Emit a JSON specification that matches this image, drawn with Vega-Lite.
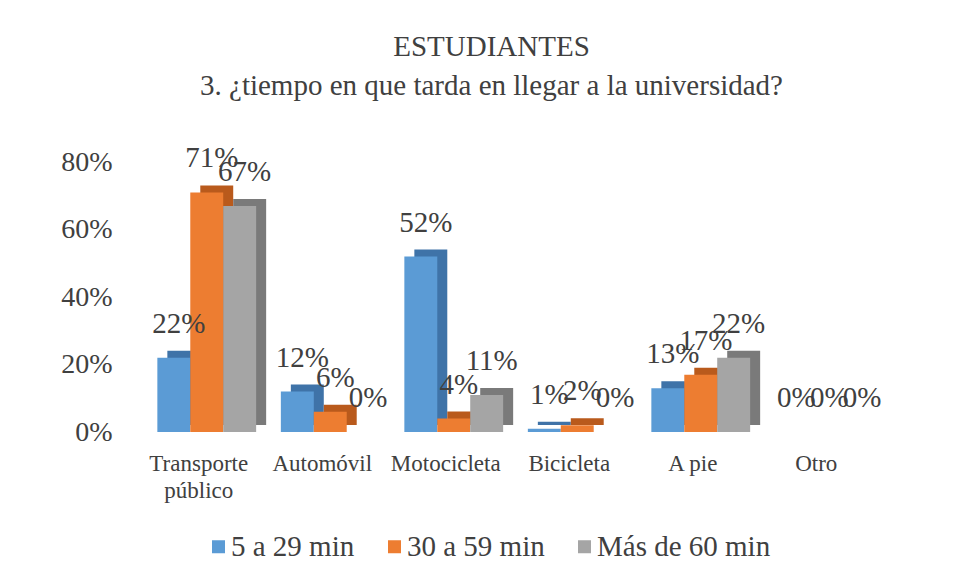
{
  "$schema": "https://vega.github.io/schema/vega-lite/v6.json",
  "autosize": {"type": "none"},
  "width": 741,
  "height": 270,
  "padding": {"left": 145, "top": 162, "right": 70, "bottom": 147},
  "background": "white",
  "title": {
    "text": ["ESTUDIANTES", "3. ¿tiempo en que tarda en llegar a la universidad?"],
    "font": "Liberation Serif, Times New Roman, serif",
    "fontSize": 29,
    "fontWeight": "normal",
    "color": "#404040",
    "lineHeight": 39,
    "anchor": "middle",
    "dx": -24,
    "offset": 43
  },
  "config": {
    "view": {"stroke": null},
    "font": "Liberation Serif, Times New Roman, serif"
  },
  "data": {
    "values": [
      {"categoria": "Transporte público", "tiempo": "5 a 29 min", "valor": 0.22},
      {"categoria": "Transporte público", "tiempo": "30 a 59 min", "valor": 0.71},
      {"categoria": "Transporte público", "tiempo": "Más de 60 min", "valor": 0.67},
      {"categoria": "Automóvil", "tiempo": "5 a 29 min", "valor": 0.12},
      {"categoria": "Automóvil", "tiempo": "30 a 59 min", "valor": 0.06},
      {"categoria": "Automóvil", "tiempo": "Más de 60 min", "valor": 0.0},
      {"categoria": "Motocicleta", "tiempo": "5 a 29 min", "valor": 0.52},
      {"categoria": "Motocicleta", "tiempo": "30 a 59 min", "valor": 0.04},
      {"categoria": "Motocicleta", "tiempo": "Más de 60 min", "valor": 0.11},
      {"categoria": "Bicicleta", "tiempo": "5 a 29 min", "valor": 0.01},
      {"categoria": "Bicicleta", "tiempo": "30 a 59 min", "valor": 0.02},
      {"categoria": "Bicicleta", "tiempo": "Más de 60 min", "valor": 0.0},
      {"categoria": "A pie", "tiempo": "5 a 29 min", "valor": 0.13},
      {"categoria": "A pie", "tiempo": "30 a 59 min", "valor": 0.17},
      {"categoria": "A pie", "tiempo": "Más de 60 min", "valor": 0.22},
      {"categoria": "Otro", "tiempo": "5 a 29 min", "valor": 0.0},
      {"categoria": "Otro", "tiempo": "30 a 59 min", "valor": 0.0},
      {"categoria": "Otro", "tiempo": "Más de 60 min", "valor": 0.0}
    ]
  },
  "encoding": {
    "x": {
      "field": "categoria",
      "type": "nominal",
      "sort": null,
      "scale": {"paddingInner": 0.2, "paddingOuter": 0.1},
      "axis": {
        "title": null,
        "domain": false,
        "ticks": false,
        "labelAngle": 0,
        "labelFont": "Liberation Serif, Times New Roman, serif",
        "labelFontSize": 23,
        "labelColor": "#404040",
        "labelPadding": 20,
        "labelOffset": -8,
        "labelLineHeight": 27,
        "labelExpr": "datum.label == 'Transporte público' ? ['Transporte', 'público'] : datum.label"
      }
    },
    "y": {
      "field": "valor",
      "type": "quantitative",
      "scale": {"domain": [0, 0.8]},
      "axis": {
        "title": null,
        "format": ".0%",
        "values": [0, 0.2, 0.4, 0.6, 0.8],
        "grid": false,
        "domain": false,
        "ticks": false,
        "labelFont": "Liberation Serif, Times New Roman, serif",
        "labelFontSize": 28,
        "labelColor": "#404040",
        "labelPadding": 33
      }
    }
  },
  "resolve": {"scale": {"xOffset": "independent", "color": "independent"}},
  "layer": [
    {
      "mark": {"type": "bar", "yOffset": -7},
      "encoding": {
        "xOffset": {
          "field": "tiempo",
          "type": "nominal",
          "sort": ["5 a 29 min", "30 a 59 min", "Más de 60 min"],
          "scale": {"range": [10, 108.8], "paddingInner": 0, "paddingOuter": 0}
        },
        "color": {
          "field": "tiempo",
          "type": "nominal",
          "sort": ["5 a 29 min", "30 a 59 min", "Más de 60 min"],
          "scale": {"range": ["#3f73a8", "#b95a1c", "#7a7a7a"]},
          "legend": null
        }
      }
    },
    {
      "mark": {"type": "bar"},
      "encoding": {
        "xOffset": {
          "field": "tiempo",
          "type": "nominal",
          "sort": ["5 a 29 min", "30 a 59 min", "Más de 60 min"],
          "scale": {"range": [0, 98.8], "paddingInner": 0, "paddingOuter": 0}
        },
        "fill": {
          "field": "tiempo",
          "type": "nominal",
          "sort": ["5 a 29 min", "30 a 59 min", "Más de 60 min"],
          "scale": {"range": ["#5b9bd5", "#ed7d31", "#a5a5a5"]},
          "legend": {
            "title": null,
            "orient": "none",
            "direction": "horizontal",
            "legendX": 59,
            "legendY": 370,
            "symbolType": "square",
            "symbolSize": 169,
            "symbolStrokeWidth": 0,
            "labelFont": "Liberation Serif, Times New Roman, serif",
            "labelFontSize": 29,
            "labelColor": "#404040",
            "labelOffset": -2,
            "labelLimit": 400,
            "columnPadding": 25
          }
        }
      }
    },
    {
      "mark": {"type": "text", "baseline": "alphabetic", "dy": -25, "dx": 5, "font": "Liberation Serif, Times New Roman, serif", "fontSize": 29, "color": "#404040"},
      "encoding": {
        "xOffset": {
          "field": "tiempo",
          "type": "nominal",
          "sort": ["5 a 29 min", "30 a 59 min", "Más de 60 min"],
          "scale": {"type": "point", "range": [16.47, 82.33], "padding": 0}
        },
        "text": {"field": "valor", "type": "quantitative", "format": ".0%"}
      }
    }
  ]
}
